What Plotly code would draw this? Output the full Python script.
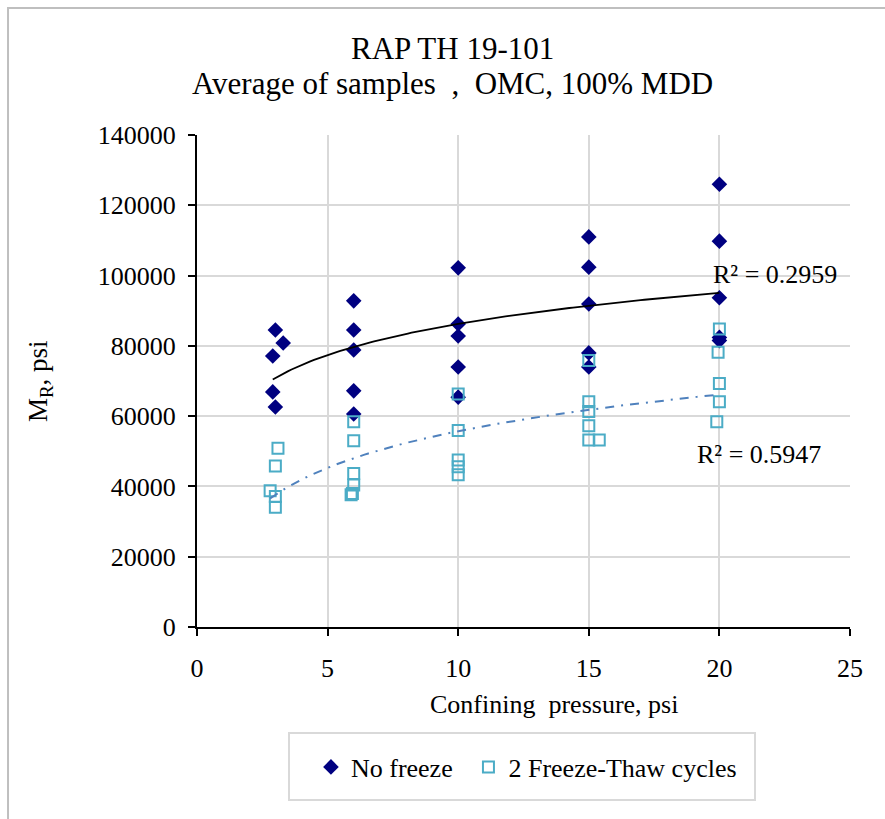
import numpy as np
import plotly.graph_objects as go

# Confining pressure (psi) and resilient modulus (psi) for each test
nf_x = [3.0, 3.3, 2.9, 2.9, 3.0,
        6.0, 6.0, 6.0, 6.0, 6.0,
        10.0, 10.0, 10.0, 10.0, 10.0,
        15.0, 15.0, 15.0, 15.0, 15.0,
        20.0, 20.0, 20.0, 20.0, 20.0]
nf_y = [84500, 80800, 77100, 66900, 62600,
        92800, 84500, 78800, 67200, 60600,
        102200, 86200, 82800, 74000, 65400,
        111000, 102400, 91900, 78000, 74000,
        126000, 109800, 93700, 82400, 81500]

ft_x = [3.1, 3.0, 2.8, 3.0, 3.0,
        6.0, 6.0, 6.0, 6.0, 5.95, 5.9,
        10.0, 10.0, 10.0, 10.0, 10.0,
        15.0, 15.0, 15.0, 15.0, 15.0, 15.4,
        20.0, 19.95, 20.0, 20.0, 19.9]
ft_y = [50850, 45800, 38800, 37100, 34100,
        58400, 53000, 43700, 40400, 38000, 37600,
        66300, 55900, 47500, 45600, 43300,
        75800, 64100, 61300, 57300, 53200, 53200,
        84800, 78200, 69300, 64100, 58400]

nf_r2_text = "R² = 0.2959"
ft_r2_text = "R² = 0.5947"

title_lines = ["RAP TH 19-101",
               "Average of samples\u00a0\u00a0,\u00a0\u00a0OMC, 100% MDD"]

x_ticks = [0, 5, 10, 15, 20, 25]
y_ticks = [0, 20000, 40000, 60000, 80000, 100000, 120000, 140000]

FONT = "Liberation Serif, Times New Roman, serif"
NAVY = "#000080"
TEAL = "#4bacc6"
BLUE = "#4f81bd"


def log_fit(xs, ys, n=120):
    """Least-squares fit y = a*ln(x) + b, sampled over the data range."""
    xs = np.asarray(xs, float)
    ys = np.asarray(ys, float)
    a, b = np.polyfit(np.log(xs), ys, 1)
    xl = np.linspace(xs.min(), xs.max(), n)
    return xl, a * np.log(xl) + b


fig = go.Figure()

fig.add_trace(go.Scatter(
    x=nf_x, y=nf_y, mode="markers", name="No freeze", legend="legend",
    marker=dict(symbol="diamond", size=12, color=NAVY),
))
fig.add_trace(go.Scatter(
    x=ft_x, y=ft_y, mode="markers", name="2 Freeze-Thaw cycles", legend="legend2",
    marker=dict(symbol="square-open", size=11, color=TEAL,
                line=dict(width=2, color=TEAL)),
))

lx, ly = log_fit(nf_x, nf_y)
fig.add_trace(go.Scatter(x=lx, y=ly, mode="lines", showlegend=False,
                         line=dict(color="black", width=1.8), hoverinfo="skip"))
lx, ly = log_fit(ft_x, ft_y)
fig.add_trace(go.Scatter(x=lx, y=ly, mode="lines", showlegend=False,
                         line=dict(color=BLUE, width=2, dash="9px,7px,2px,7px"),
                         hoverinfo="skip"))

axis_common = dict(
    showline=True, linecolor="black", linewidth=2,
    ticks="outside", tickcolor="black", ticklen=7, tickwidth=2,
    showgrid=True, gridcolor="#d9d9d9", gridwidth=2,
    zeroline=False, tickfont=dict(family=FONT, size=26, color="black"),
)

fig.update_xaxes(range=[0, 25], tickvals=x_ticks, ticktext=[str(v) for v in x_ticks],
                 ticklabelstandoff=10, **axis_common)
fig.update_yaxes(range=[0, 140000], tickvals=y_ticks, ticktext=[str(v) for v in y_ticks],
                 ticklabelstandoff=7, **axis_common)

annotations = [
    dict(text=title_lines[0], xref="paper", yref="paper", x=0.392, y=1.1768,
         xanchor="center", yanchor="middle", showarrow=False,
         font=dict(family=FONT, size=31, color="black")),
    dict(text=title_lines[1], xref="paper", yref="paper", x=0.392, y=1.1037,
         xanchor="center", yanchor="middle", showarrow=False,
         font=dict(family=FONT, size=31, color="black")),
    dict(text="Confining\u00a0\u00a0pressure, psi", xref="paper", yref="paper",
         x=0.546, y=-0.1585, xanchor="center", yanchor="middle", showarrow=False,
         font=dict(family=FONT, size=26, color="black")),
    dict(text="M<sub>R</sub>, psi", xref="paper", yref="paper",
         x=-0.2404, y=0.5, xanchor="center", yanchor="middle", textangle=-90,
         showarrow=False, font=dict(family=FONT, size=27, color="black")),
    dict(text=nf_r2_text, x=22.13, y=100200, xanchor="center", yanchor="middle",
         showarrow=False, font=dict(family=FONT, size=26, color="black")),
    dict(text=ft_r2_text, x=21.5, y=49200, xanchor="center", yanchor="middle",
         showarrow=False, font=dict(family=FONT, size=26, color="black")),
]

shapes = [
    # outer chart frame (left and top edges fall inside the page)
    dict(type="rect", xref="paper", yref="paper", x0=-0.2894, x1=1.3, y0=-0.6, y1=1.2581,
         line=dict(color="#bfbfbf", width=2), fillcolor="rgba(0,0,0,0)", layer="below"),
    # legend frame
    dict(type="rect", xref="paper", yref="paper", x0=0.1409, x1=0.8545, y0=-0.3516, y1=-0.2154,
         line=dict(color="#d9d9d9", width=2), fillcolor="rgba(0,0,0,0)", layer="below"),
]

legend_style = dict(orientation="h", yanchor="middle", y=-0.2846, xanchor="left",
                    bgcolor="rgba(0,0,0,0)", borderwidth=0,
                    font=dict(family=FONT, size=26, color="black"))

fig.update_layout(
    width=885, height=819,
    margin=dict(l=197, r=35, t=135, b=192),
    paper_bgcolor="white", plot_bgcolor="white",
    font=dict(family=FONT, size=26, color="black"),
    showlegend=True,
    legend=dict(x=0.1745, **legend_style),
    legend2=dict(x=0.4157, **legend_style),
    annotations=annotations,
    shapes=shapes,
)

fig.write_html("out.html")
